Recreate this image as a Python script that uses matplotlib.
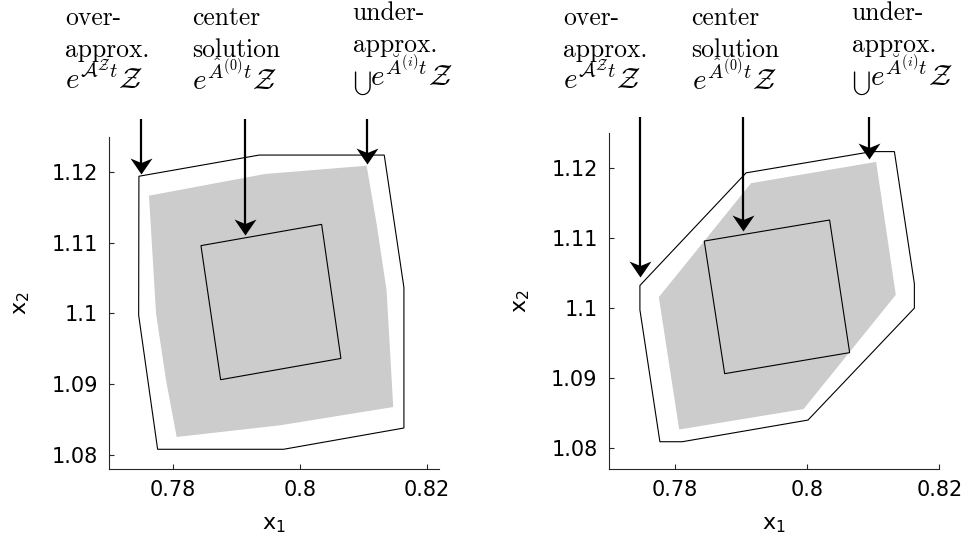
import numpy as np
import matplotlib
matplotlib.use("Agg")
import matplotlib.pyplot as plt
from matplotlib.path import Path

plt.rcParams['font.family'] = ['DejaVu Sans']
plt.rcParams['mathtext.fontset'] = 'dejavusans'

# ---------------- data ----------------
# inner "center solution" parallelogram (same in both panels)
center_x = [0.78445, 0.80341, 0.80644, 0.78754]
center_y = [1.10958, 1.11259, 1.09361, 1.09060]

# left panel
over_left_x = [0.77470, 0.79360, 0.81325, 0.81634, 0.81634, 0.79744, 0.77764, 0.77466]
over_left_y = [1.11940, 1.12240, 1.12240, 1.10365, 1.08376, 1.08075, 1.08075, 1.09973]
under_left_x = [0.77628, 0.79450, 0.81048, 0.81205, 0.81362, 0.81466, 0.79686, 0.78063, 0.77896, 0.77739]
under_left_y = [1.11665, 1.11972, 1.12089, 1.11265, 1.10322, 1.08673, 1.08414, 1.08249, 1.09054, 1.09997]

# right panel
over_right_x = [0.77472, 0.79078, 0.80980, 0.81321, 0.81623, 0.81623, 0.80014, 0.78112, 0.77774, 0.77472]
over_right_y = [1.10322, 1.11934, 1.12238, 1.12238, 1.10348, 1.09998, 1.08396, 1.08086, 1.08086, 1.09974]
under_right_x = [0.79153, 0.81045, 0.81342, 0.79947, 0.78066, 0.77758]
under_right_y = [1.11786, 1.12091, 1.10188, 1.08553, 1.08261, 1.10155]

# annotation arrows (x position, tip y, tail y)
arrow_left_x = [0.77502, 0.79136, 0.81048]
arrow_left_tip = [1.11972, 1.11110, 1.12113]
arrow_left_tail = [1.12749, 1.12749, 1.12749]
arrow_right_x = [0.77472, 0.79037, 0.80934]
arrow_right_tip = [1.10440, 1.11101, 1.12134]
arrow_right_tail = [1.12738, 1.12738, 1.12738]

# annotation text blocks
label_words = [
    ["over-", "approx."],
    ["center", "solution"],
    ["under-", "approx."],
]
label_formulas = [
    r"$e^{\mathcal{A}^{\mathcal{Z}}t}\mathcal{Z}$",
    r"$e^{\hat{A}^{(0)}t}\mathcal{Z}$",
    r"$e^{\breve{A}^{(i)}t}\mathcal{Z}$",
]
union_symbol = r"$\bigcup$"

xticks = [0.78, 0.80, 0.82]
xticklabels = ["0.78", "0.8", "0.82"]
yticks = [1.08, 1.09, 1.10, 1.11, 1.12]
yticklabels = ["1.08", "1.09", "1.1", "1.11", "1.12"]

left_xlim = (0.77, 0.8219)
left_ylim = (1.078, 1.125)
right_xlim = (0.77, 0.82)
right_ylim = (1.077, 1.125)

# ---------------- figure ----------------
W, H = 961, 544
fig = plt.figure(figsize=(W / 100, H / 100), dpi=100)

ax_l = fig.add_axes([109 / W, 1 - 468.7 / H, 330.3 / W, 332.0 / H])
ax_r = fig.add_axes([608.7 / W, 1 - 468.7 / H, 330.6 / W, 335.4 / H])

GRAY = '#cccccc'
SPINE = '#262626'

# arrowhead marker: tip at origin, pointing down, concave back
head = Path([(0, 0), (-11, 16), (0, 11.5), (11, 16), (0, 0)],
            [Path.MOVETO, Path.LINETO, Path.LINETO, Path.LINETO, Path.CLOSEPOLY])


def draw_panel(ax, ox, oy, ux, uy, axs, tips, tails, xlim, ylim):
    ax.fill(ux, uy, color=GRAY, lw=0, zorder=1)
    ax.fill(ox, oy, facecolor='none', edgecolor='black', lw=0.8, zorder=2)
    ax.fill(center_x, center_y, facecolor='none', edgecolor='black', lw=0.8, zorder=3)
    for x, tip, tail in zip(axs, tips, tails):
        # shaft stops a little before the tip
        ax.plot([x, x], [tail, tip + 0.0012], color='black', lw=1.6,
                clip_on=False, zorder=5, solid_capstyle='butt')
        ax.plot([x], [tip], marker=head, markersize=23, color='black',
                markeredgewidth=0, clip_on=False, zorder=6)
    ax.set_xlim(*xlim)
    ax.set_ylim(*ylim)
    ax.set_xticks(xticks)
    ax.set_xticklabels(xticklabels)
    ax.set_yticks(yticks)
    ax.set_yticklabels(yticklabels)
    for s in ['top', 'right']:
        ax.spines[s].set_visible(False)
    for s in ['left', 'bottom']:
        ax.spines[s].set_color(SPINE)
        ax.spines[s].set_linewidth(0.8)
    ax.tick_params(direction='in', length=3.5, width=0.8, color=SPINE,
                   labelsize=15, labelcolor='black')
    ax.tick_params(axis='y', pad=8)
    ax.tick_params(axis='x', pad=8)
    ax.set_xlabel(r'x$_1$', fontsize=16, labelpad=11)
    ax.set_ylabel(r'x$_2$', fontsize=16, labelpad=14)


draw_panel(ax_l, over_left_x, over_left_y, under_left_x, under_left_y,
           arrow_left_x, arrow_left_tip, arrow_left_tail, left_xlim, left_ylim)
draw_panel(ax_r, over_right_x, over_right_y, under_right_x, under_right_y,
           arrow_right_x, arrow_right_tip, arrow_right_tail, right_xlim, right_ylim)

# annotation text (figure pixel layout)
block_x = [[65, 192.5, 352.7], [563.3, 691.5, 851.7]]
formula_x = [[65, 192.5, 370.5], [563.3, 691.5, 869.5]]
block_base = [[25, 57, 89.8], [25, 57, 89.8], [20.5, 52, 86.5]]
for panel in range(2):
    for b in range(3):
        for li, line in enumerate(label_words[b]):
            fig.text(block_x[panel][b] / W, 1 - block_base[b][li] / H, line,
                     ha='left', va='baseline', fontsize=18.4,
                     family='cmr10', color='black')
        fig.text(formula_x[panel][b] / W, 1 - block_base[b][2] / H,
                 label_formulas[b], ha='left', va='baseline', fontsize=21,
                 math_fontfamily='cm', color='black')
    fig.text(block_x[panel][2] / W, 1 - 88.5 / H, union_symbol,
             ha='left', va='baseline', fontsize=11.5,
             math_fontfamily='cm', color='black')

fig.savefig('out.png', dpi=100)
